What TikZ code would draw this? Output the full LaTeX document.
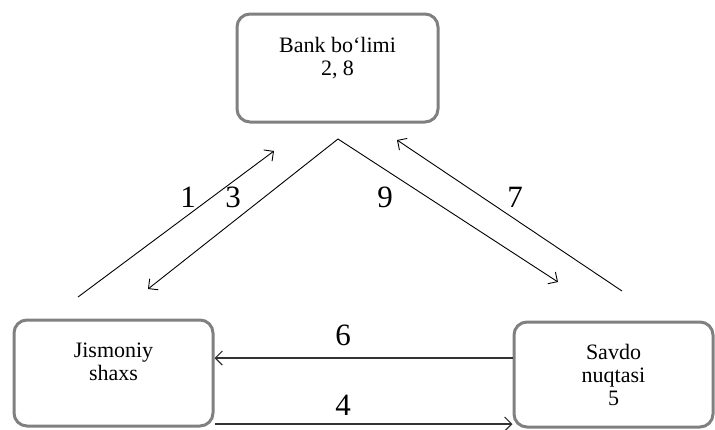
\documentclass[tikz,border=0pt]{standalone}
\usepackage{fontspec}
\setmainfont{Liberation Serif}
\usetikzlibrary{arrows.meta}

\tikzset{
  box/.style={draw=black!50, line width=3pt, rounded corners=13pt,
    minimum width=199pt, minimum height=106pt, align=center, inner sep=0pt,
    font=\fontsize{22}{23}\selectfont},
  num/.style={inner sep=0pt, font=\fontsize{31}{31}\selectfont},
  link/.style={line width=0.9pt},
}

\begin{document}
\begin{tikzpicture}[x=1pt, y=-1pt, >={Straight Barb[length=7pt,width=14pt]}]
    \useasboundingbox (0,0) rectangle (715,429);

    % uchta bo'lim
    \node[box, minimum width=201pt, minimum height=108pt] (bank) at (337.5,68)
        {Bank bo‘limi\\2, 8\\ \mbox{}};
    \node[box] (jismoniy) at (113.5,373) {Jismoniy\\shaxs\\ \mbox{}};
    \node[box, minimum height=105pt] (savdo) at (613.5,374.5) {Savdo\\nuqtasi\\5};

    % diagonal strelkalar
    \coordinate (apex) at (338,139);
    \coordinate (s1) at (78,297);
    \coordinate (e1) at (274,151);
    \coordinate (e3) at (148,289);
    \coordinate (e9) at (558,282);
    \coordinate (s7) at (622,291);
    \coordinate (e7) at (397,140);

    \draw[link, ->] (s1) -- (e1);
    \draw[link, <->, line join=miter] (e3) -- (apex) -- (e9);
    \draw[link, ->] (s7) -- (e7);

    % gorizontal strelkalar
    \draw[link, ->, draw=black!80, line width=1.2pt]
        ([yshift=16.5pt]savdo.west) -- ([yshift=15pt]jismoniy.east);
    \draw[link, ->, draw=black!80, line width=1.2pt]
        ([yshift=-51pt]jismoniy.east) -- ([yshift=-49.5pt]savdo.west);

    \node[num] (n1) at (188,197) {1};
    \node[num] (n3) at (233,197) {3};
    \node[num] (n9) at (385,197) {9};
    \node[num] (n7) at (515,197) {7};
    \node[num] (n6) at (343,335) {6};
    \node[num] (n4) at (343,405) {4};
\end{tikzpicture}
\end{document}
